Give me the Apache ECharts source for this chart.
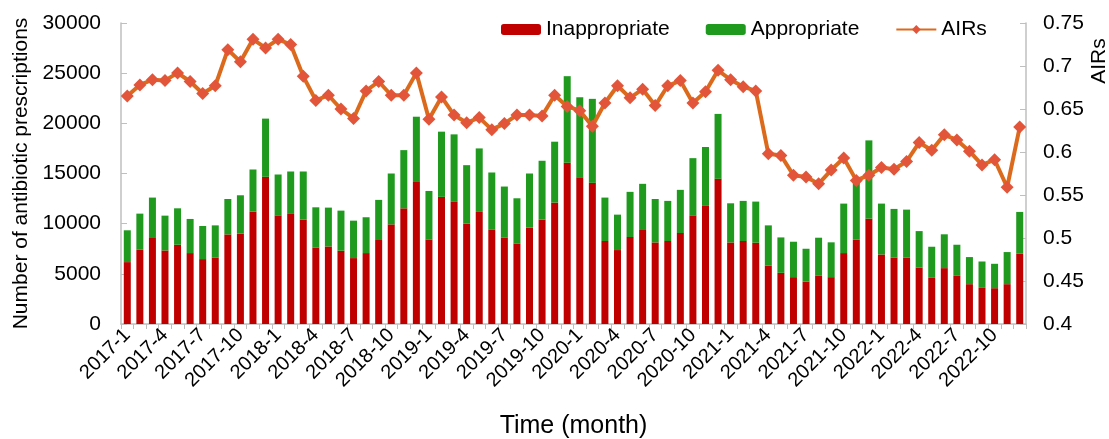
<!DOCTYPE html>
<html>
<head>
<meta charset="UTF-8">
<title>Antibiotic prescriptions</title>
<script src="https://cdn.jsdelivr.net/npm/echarts@6/dist/echarts.min.js"></script>
<style>
  html, body { margin: 0; padding: 0; background: #fff; }
  #main { width: 1109px; height: 439px; }
</style>
</head>
<body>
<div id="main"></div>
<script>
// months 2017-1 .. 2022-12
var months = [
  '2017-1','2017-2','2017-3','2017-4','2017-5','2017-6','2017-7','2017-8','2017-9','2017-10','2017-11','2017-12',
  '2018-1','2018-2','2018-3','2018-4','2018-5','2018-6','2018-7','2018-8','2018-9','2018-10','2018-11','2018-12',
  '2019-1','2019-2','2019-3','2019-4','2019-5','2019-6','2019-7','2019-8','2019-9','2019-10','2019-11','2019-12',
  '2020-1','2020-2','2020-3','2020-4','2020-5','2020-6','2020-7','2020-8','2020-9','2020-10','2020-11','2020-12',
  '2021-1','2021-2','2021-3','2021-4','2021-5','2021-6','2021-7','2021-8','2021-9','2021-10','2021-11','2021-12',
  '2022-1','2022-2','2022-3','2022-4','2022-5','2022-6','2022-7','2022-8','2022-9','2022-10','2022-11','2022-12'
];

var inappropriate = [
  6170, 7400, 8570, 7330, 7900, 7070, 6470, 6600, 8930, 9000, 11200, 14670,
  10830, 10970, 10400, 7630, 7730, 7300, 6570, 7070, 8370, 9930, 11530, 14230,
  8430, 12670, 12170, 10000, 11170, 9430, 8630, 8030, 9600, 10400, 12100, 16070,
  14630, 14070, 8270, 7370, 8670, 9370, 8130, 8270, 9070, 10830, 11770, 14470,
  8130, 8270, 8100, 5830, 5100, 4670, 4230, 4800, 4670, 7070, 8400, 10500,
  6930, 6600, 6630, 5630, 4600, 5570, 4800, 3970, 3600, 3570, 3970, 7000
];

var appropriate = [
  3170, 3600, 4030, 3470, 3630, 3400, 3300, 3230, 3530, 3830, 4200, 5800,
  4070, 4230, 4800, 4000, 3870, 4000, 3730, 3570, 4000, 5070, 5800, 6430,
  4830, 6500, 6730, 5830, 6330, 5670, 5070, 4500, 5400, 5870, 6070, 8630,
  7970, 8370, 4330, 3530, 4500, 4600, 4330, 4000, 4300, 5700, 5870, 6470,
  3900, 4000, 4100, 4000, 3530, 3530, 3270, 3800, 3470, 4930, 5800, 7800,
  5070, 4870, 4770, 3630, 3100, 3370, 3100, 2700, 2630, 2430, 3200, 4170
];

var airs = [
  0.665, 0.678, 0.684, 0.683, 0.692, 0.682, 0.668, 0.677, 0.719, 0.705, 0.731, 0.721,
  0.731, 0.725, 0.688, 0.660, 0.666, 0.650, 0.639, 0.671, 0.682, 0.666, 0.666, 0.692,
  0.638, 0.664, 0.643, 0.634, 0.640, 0.626, 0.633, 0.643, 0.643, 0.642, 0.666, 0.653,
  0.648, 0.630, 0.657, 0.677, 0.663, 0.673, 0.654, 0.677, 0.683, 0.657, 0.670, 0.695,
  0.684, 0.676, 0.671, 0.598, 0.596, 0.573, 0.571, 0.563, 0.579, 0.593, 0.567, 0.573,
  0.582, 0.580, 0.589, 0.611, 0.602, 0.620, 0.614, 0.601, 0.585, 0.591, 0.559, 0.629
];

var font = 'Liberation Sans';
var axisGrey = '#bfbfbf';

var myChart = echarts.init(document.getElementById('main'));
var option = {
  animation: false,
  textStyle: { fontFamily: font, color: '#000' },
  grid: { left: 121, right: 83, top: 23, bottom: 115, outerBoundsMode: 'none', containLabel: false },
  legend: {
    left: 496, top: 14,
    itemWidth: 40, itemHeight: 11, itemGap: 36,
    textStyle: { fontFamily: font, fontSize: 21, color: '#000' },
    data: ['Inappropriate', 'Appropriate', 'AIRs']
  },
  xAxis: {
    type: 'category',
    data: months,
    name: 'Time (month)',
    nameLocation: 'middle',
    nameGap: 90,
    nameTextStyle: { fontFamily: font, fontSize: 25, color: '#000' },
    axisLine: { lineStyle: { color: axisGrey, width: 1.5 } },
    axisTick: { show: true, interval: 0, length: 5, lineStyle: { color: axisGrey } },
    axisLabel: { interval: 2, rotate: 45, fontSize: 20, color: '#000', margin: 8 }
  },
  yAxis: [
    {
      type: 'value',
      min: 0, max: 30000, interval: 5000,
      name: 'Number of antibiotic prescriptions',
      nameLocation: 'middle',
      nameGap: 88,
      nameTextStyle: { fontFamily: font, fontSize: 21, color: '#000' },
      splitLine: { show: false },
      axisLine: { show: true, lineStyle: { color: axisGrey, width: 1.5 } },
      axisTick: { show: true, inside: true, length: 6, lineStyle: { color: axisGrey } },
      axisLabel: {
        fontSize: 21, color: '#000', margin: 20,
        formatter: function (v) { return String(v); }
      }
    },
    {
      type: 'value',
      min: 0.4, max: 0.75, interval: 0.05,
      splitLine: { show: false },
      axisLine: { show: true, lineStyle: { color: axisGrey, width: 1.5 } },
      axisTick: { show: true, inside: true, length: 6, lineStyle: { color: axisGrey } },
      axisLabel: {
        fontSize: 21, color: '#000', margin: 17,
        formatter: function (v) { return String(+v.toFixed(2)); }
      }
    }
  ],
  graphic: [
    {
      type: 'text',
      x: 1099, y: 61,
      rotation: Math.PI / 2,
      style: { text: 'AIRs', font: '21px "Liberation Sans"', fill: '#000', align: 'center', verticalAlign: 'middle' }
    }
  ],
  series: [
    {
      name: 'Inappropriate',
      type: 'bar',
      stack: 'rx',
      barWidth: 7,
      itemStyle: { color: '#c00000' },
      data: inappropriate
    },
    {
      name: 'Appropriate',
      type: 'bar',
      stack: 'rx',
      barWidth: 7,
      itemStyle: { color: '#1f9a1f' },
      data: appropriate
    },
    {
      name: 'AIRs',
      type: 'line',
      yAxisIndex: 1,
      symbol: 'diamond',
      symbolSize: 13,
      showAllSymbol: true,
      lineStyle: { color: '#dc6a1c', width: 4 },
      itemStyle: { color: '#e3553a' },
      data: airs
    }
  ]
};
myChart.setOption(option);
</script>
</body>
</html>
